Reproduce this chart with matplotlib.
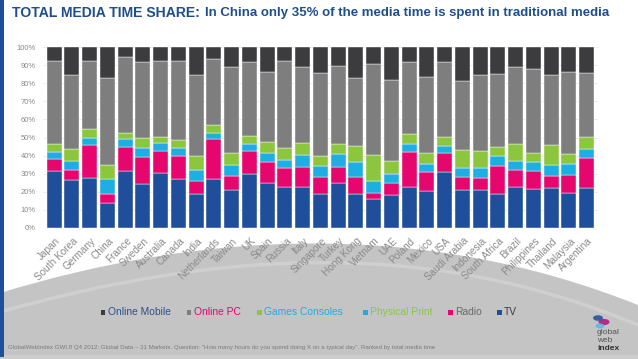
import numpy as np
import matplotlib.pyplot as plt
from matplotlib.path import Path
from matplotlib.patches import PathPatch, Rectangle, Circle

plt.rcParams['font.family'] = ['Liberation Sans', 'DejaVu Sans']

# Data (share of total media time, %)
countries = ['Japan', 'South Korea', 'Germany', 'China', 'France', 'Sweden',
             'Australia', 'Canada', 'India', 'Netherlands', 'Taiwan', 'UK',
             'Spain', 'Russia', 'Italy', 'Singapore', 'Turkey', 'Hong Kong',
             'Vietnam', 'UAE', 'Poland', 'Mexico', 'USA', 'Saudi Arabia',
             'Indonesia', 'South Africa', 'Brazil', 'Philippines', 'Thailand',
             'Malaysia', 'Argentina']
tv = [31.6, 26.2, 27.7, 13.5, 31.4, 24.0, 30.1, 27.0, 18.9, 27.2, 20.9, 29.6,
      24.6, 22.7, 22.7, 18.5, 25.0, 18.9, 15.7, 18.1, 22.7, 20.5, 30.9, 21.1,
      21.1, 18.5, 22.6, 21.6, 21.8, 19.4, 22.2]
radio = [6.5, 5.6, 18.1, 5.4, 13.5, 15.0, 12.6, 12.7, 7.2, 21.8, 7.9, 12.7,
         12.0, 10.6, 11.1, 9.8, 8.8, 9.4, 3.7, 6.9, 19.3, 10.4, 10.7, 7.2,
         6.6, 15.7, 9.4, 10.0, 7.0, 10.0, 16.4]
physical_print = [4.0, 5.2, 3.9, 8.3, 4.1, 5.2, 4.1, 4.7, 5.9, 3.7, 5.8, 4.3,
                  4.8, 4.4, 6.3, 5.9, 7.2, 8.3, 6.3, 4.8, 4.6, 4.4, 3.9, 5.0,
                  5.6, 5.4, 5.2, 5.0, 6.0, 5.9, 4.8]
games = [4.1, 6.4, 5.2, 7.4, 3.7, 5.5, 3.5, 4.4, 7.7, 4.0, 6.6, 4.4,
         5.9, 6.7, 7.0, 5.7, 5.4, 8.7, 14.4, 7.2, 5.2, 6.1, 5.0, 9.8,
         9.2, 4.9, 9.2, 5.0, 10.9, 5.4, 6.9]
online_pc = [46.4, 41.3, 37.7, 48.2, 41.9, 42.2, 42.1, 43.8, 45.0, 36.8, 48.1,
             40.9, 39.0, 47.8, 42.0, 46.1, 43.2, 37.5, 50.7, 44.9, 40.1, 42.1,
             41.6, 38.2, 42.3, 40.5, 42.9, 46.4, 39.0, 45.6, 35.7]
online_mobile = [7.4, 15.3, 7.4, 17.2, 5.4, 8.1, 7.6, 7.4, 15.3, 6.5, 10.7,
                 8.1, 13.7, 7.8, 10.9, 14.0, 10.4, 17.2, 9.2, 18.1, 8.1, 16.5,
                 7.9, 18.7, 15.2, 15.0, 10.7, 12.0, 15.3, 13.7, 14.0]

series = [('TV', tv, '#1f4e9a'),
          ('Radio', radio, '#e5066e'),
          ('Physical Print', physical_print, '#1eaee3'),
          ('Games Consoles', games, '#8cc63e'),
          ('Online PC', online_pc, '#7e7e7e'),
          ('Online Mobile', online_mobile, '#3c3c3e')]

W, H = 638, 359
fig = plt.figure(figsize=(W / 100, H / 100), dpi=100)
fig.patch.set_facecolor('white')


def fx(px):
    return px / W


def fy(py):
    return 1 - py / H


# grey swoosh in the background
verts = [(fx(0), fy(293)), (fx(200), fy(232)), (fx(420), fy(218)), (fx(638), fy(305)),
         (fx(638), fy(355)), (fx(0), fy(355)), (fx(0), fy(293))]
codes = [Path.MOVETO, Path.CURVE4, Path.CURVE4, Path.CURVE4,
         Path.LINETO, Path.LINETO, Path.CLOSEPOLY]
fig.patches.append(PathPatch(Path(verts, codes), transform=fig.transFigure,
                             facecolor='#c4c4c4', edgecolor='none', zorder=-3))
fig.patches.append(Rectangle((0, 0), 1, fy(355), transform=fig.transFigure,
                             facecolor='#cdcdcd', edgecolor='none', zorder=-3))
hl = [(fx(0), fy(312)), (fx(220), fy(250)), (fx(430), fy(238)), (fx(638), fy(325))]
fig.patches.append(PathPatch(Path(hl, [Path.MOVETO, Path.CURVE4, Path.CURVE4, Path.CURVE4]),
                             transform=fig.transFigure, facecolor='none',
                             edgecolor='#cfcfcf', lw=2.5, zorder=-2))
# blue border on the left
fig.patches.append(Rectangle((0, fy(357)), fx(4), 1 - fy(357), transform=fig.transFigure,
                             facecolor='#1f4e9a', edgecolor='none', zorder=-1))

ax = fig.add_axes([fx(43), fy(227.7), fx(598) - fx(43), fy(47.3) - fy(227.7)])
ax.set_facecolor('none')
x = np.arange(len(countries))
bottom = np.zeros(len(countries))
for name, vals, col in series:
    ax.bar(x, vals, bottom=bottom, width=0.845, color=col,
           edgecolor='white', linewidth=0.3, zorder=3)
    bottom += np.array(vals)

ax.set_xlim(-0.631, 30.648)
ax.set_ylim(0, 100)
ax.set_yticks(np.arange(0, 101, 10))
ax.set_yticklabels([f'{v}%' for v in range(0, 101, 10)], fontsize=5.5, color='#8a8a8a')
ax.tick_params(axis='y', length=0, pad=5)
ax.set_xticks([])
ax.grid(axis='y', color='#e4e4e4', lw=0.5, zorder=0)
for s in ax.spines.values():
    s.set_visible(False)

for i, c in enumerate(countries):
    ax.text(i + 0.25, -6.5, c, rotation=45, rotation_mode='anchor', ha='right', va='center',
            fontsize=7.2, color='#8a8a8a', clip_on=False)

# title
fig.text(fx(12), fy(13), 'TOTAL MEDIA TIME SHARE:', fontsize=10.1, fontweight='bold',
         color='#1f4e8c', va='center')
fig.text(fx(205), fy(13), 'In China only 35% of the media time is spent in traditional media',
         fontsize=9.5, fontweight='bold', color='#1f4e8c', va='center')

# legend
legend_items = [(100.7, 'Online Mobile', '#3c3c3e', '#2e4f8e'),
                (187, 'Online PC', '#7e7e7e', '#e5066e'),
                (257, 'Games Consoles', '#8cc63e', '#1eaee3'),
                (363, 'Physical Print', '#1eaee3', '#8cc63e'),
                (448, 'Radio', '#e5066e', '#6a6a6a'),
                (497, 'TV', '#1f4e9a', '#3c3c3e')]
for px, label, mcol, tcol in legend_items:
    fig.patches.append(Rectangle((fx(px), fy(314.5)), fx(4.5), fy(309.5) - fy(314.5),
                                 transform=fig.transFigure, facecolor=mcol,
                                 edgecolor='none', zorder=2))
    fig.text(fx(px + 7), fy(312.3), label, fontsize=7.4, color=tcol, va='center')

fig.text(fx(8), fy(347), 'GlobalWebIndex GWI.8 Q4 2012: Global Data \u2013 31 Markets. '
         'Question: "How many hours do you spend doing X on a typical day". Ranked by total media time',
         fontsize=4.45, color='#7a7a7a', va='center')

# logo
for cx, cy, r, col in [(598, 318, 5, '#1f4e9a'), (604, 322, 5.5, '#b0127a'),
                       (600, 326, 4.5, '#5ab8e8')]:
    fig.patches.append(Circle((fx(cx), fy(cy)), fx(r), transform=fig.transFigure,
                              facecolor=col, edgecolor='none', alpha=0.85, zorder=2))
fig.text(fx(597), fy(333), 'global', fontsize=6, color='#555555', va='center')
fig.text(fx(597), fy(341), 'web', fontsize=6, color='#555555', va='center')
fig.text(fx(597), fy(349), 'index', fontsize=6, color='#333333', va='center', fontweight='bold')

fig.savefig('out.png', dpi=100)
